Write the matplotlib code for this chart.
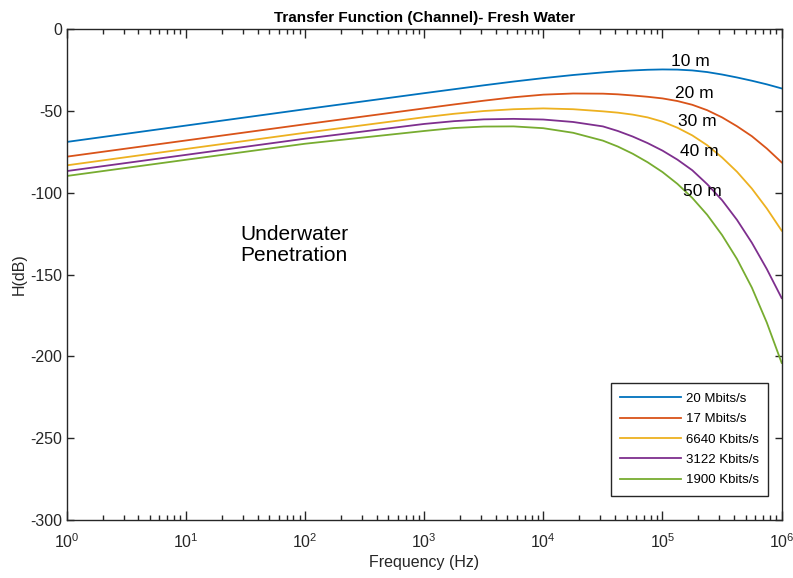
import matplotlib
matplotlib.use("Agg")
import matplotlib.pyplot as plt

plt.rcParams["font.family"] = ["Liberation Sans", "DejaVu Sans"]
plt.rcParams["axes.unicode_minus"] = False
plt.rcParams["mathtext.fontset"] = "custom"
plt.rcParams["mathtext.rm"] = "Liberation Sans"

# frequency points (Hz)
freq = [1, 10, 100, 1000, 1778, 3162, 5623, 10000, 17783, 31623, 42170,
        56234, 74989, 100000, 133352, 177828, 237137, 316228, 421697,
        562341, 749894, 1000000]

# H(dB) for each data rate
h_20mb = [-69.0, -59.0, -49.0, -39.2, -36.8, -34.4, -32.1, -30.0, -28.1, -26.5, -25.8,
          -25.3, -24.9, -24.7, -24.8, -25.3, -26.3, -27.8, -29.6, -31.6, -33.8, -36.3]
h_17mb = [-78.0, -68.1, -58.2, -48.5, -46.1, -43.8, -41.7, -40.1, -39.4, -39.5, -39.9,
          -40.6, -41.4, -42.4, -44.0, -46.3, -49.6, -54.0, -59.4, -65.5, -73.0, -81.5]
h_6640kb = [-83.3, -73.3, -63.4, -53.9, -51.8, -50.1, -49.0, -48.5, -49.0, -50.3, -51.1,
            -52.3, -54.0, -56.6, -60.3, -65.0, -71.0, -78.5, -87.2, -97.5, -109.6, -123.2]
h_3122kb = [-86.8, -76.9, -67.0, -58.0, -56.3, -55.2, -54.9, -55.3, -56.8, -59.5, -62.3,
            -65.7, -69.7, -74.3, -79.8, -86.3, -94.8, -104.6, -116.6, -130.6, -146.6, -164.4]
h_1900kb = [-89.8, -79.9, -70.1, -62.3, -60.5, -59.6, -59.5, -60.6, -63.4, -68.2, -71.8,
            -76.2, -81.4, -87.4, -94.6, -103.2, -113.5, -125.9, -140.5, -158.0, -179.3, -204.0]

labels = ["20 Mbits/s", "17 Mbits/s", "6640 Kbits/s", "3122 Kbits/s", "1900 Kbits/s"]
colors = ["#0072BD", "#D95319", "#EDB120", "#7E2F8E", "#77AC30"]
series = [h_20mb, h_17mb, h_6640kb, h_3122kb, h_1900kb]

depth_labels = ["10 m", "20 m", "30 m", "40 m", "50 m"]
depth_f = [1.72e5, 1.86e5, 1.97e5, 2.05e5, 2.15e5]
depth_h = [-19.7, -39.2, -56.3, -74.6, -99.0]

fig = plt.figure(figsize=(7.93, 5.78), dpi=100)
ax = fig.add_axes([0.0841, 0.1003, 0.9016, 0.8495])

for h, c, lab in zip(series, colors, labels):
    ax.plot(freq, h, color=c, lw=1.3, label=lab)

ax.set_xscale("log")
ax.set_xlim(1, 1e6)
ax.set_ylim(-300, 0)
ax.set_yticks(range(-300, 1, 50))

gray = "#262626"
for s in ax.spines.values():
    s.set_color(gray)
    s.set_linewidth(1.0)
ax.tick_params(which="both", direction="in", top=True, right=True,
               colors=gray, labelsize=11.5, width=1.0)
ax.tick_params(axis="x", which="major", length=6.5, pad=9)
ax.tick_params(axis="x", which="minor", length=3.6)
ax.tick_params(axis="y", which="major", length=5, pad=3)

ax.set_xlabel("Frequency (Hz)", fontsize=11.5, color=gray, labelpad=3)
ax.set_ylabel("H(dB)", fontsize=11.5, color=gray, labelpad=3)
ax.set_title("Transfer Function (Channel)- Fresh Water", fontsize=11,
             fontweight="bold", pad=5)

for t, f, h in zip(depth_labels, depth_f, depth_h):
    ax.text(f, h, t, fontsize=12.5, ha="center", va="center")

ax.text(28.6, -131.9, "Underwater\nPenetration", fontsize=15,
        ha="left", va="center", linespacing=1.15)

leg = ax.legend(loc="lower right", bbox_to_anchor=(0.9813, 0.0495),
                borderaxespad=0, fontsize=9.5, handlelength=4.6,
                handletextpad=0.4, labelspacing=0.62, borderpad=0.7,
                fancybox=False, framealpha=1)
leg.get_frame().set_edgecolor(gray)
leg.get_frame().set_linewidth(1.0)

fig.savefig("out.png", dpi=100)
